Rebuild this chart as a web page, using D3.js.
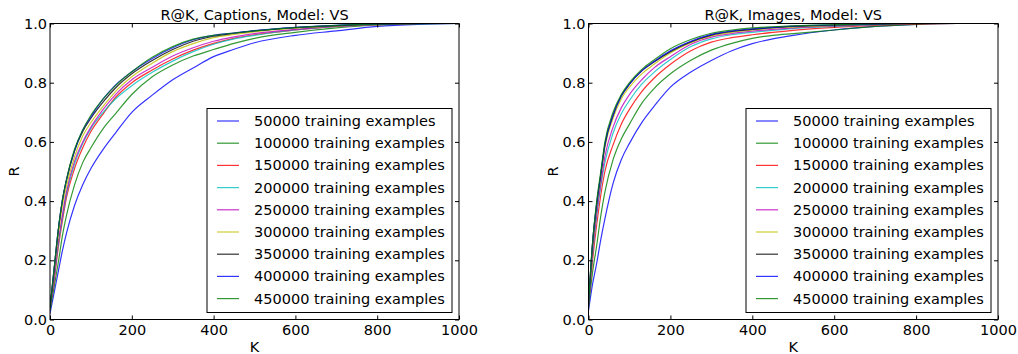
<!DOCTYPE html>
<html><head><meta charset="utf-8">
<script src="https://cdn.jsdelivr.net/npm/d3@7"></script>
<style>
html,body{margin:0;padding:0;background:#fff;}
svg{display:block;font-family:"DejaVu Sans",sans-serif;}
</style></head>
<body><svg id="chart" width="1018" height="354"></svg>
<script>
const kValues = [0,10,20,30,40,60,80,100,130,160,200,250,300,350,400,450,500,600,700,800,900,1000];
const seriesNames = ["50000 training examples","100000 training examples","150000 training examples","200000 training examples","250000 training examples","300000 training examples","350000 training examples","400000 training examples","450000 training examples"];
const seriesColors = ["#0000ff","#008000","#ff0000","#00bfbf","#bf00bf","#bfbf00","#000000","#0000ff","#008000"];
const xTicks = [0,200,400,600,800,1000];
const yTicks = [0.0,0.2,0.4,0.6,0.8,1.0];

// Captions panel
const cap50k  = [0.02,0.09,0.16,0.23,0.29,0.385,0.455,0.51,0.575,0.63,0.70,0.758,0.81,0.85,0.888,0.913,0.935,0.96,0.975,0.99,0.997,1.0];
const cap100k = [0.03,0.11,0.19,0.28,0.35,0.455,0.53,0.58,0.645,0.695,0.76,0.82,0.86,0.89,0.912,0.933,0.95,0.97,0.985,0.995,0.999,1];
const cap150k = [0.04,0.13,0.24,0.33,0.41,0.51,0.58,0.635,0.695,0.75,0.80,0.843,0.88,0.91,0.933,0.95,0.962,0.978,0.99,0.996,1,1];
const cap200k = [0.04,0.14,0.25,0.34,0.42,0.525,0.595,0.645,0.70,0.745,0.79,0.835,0.873,0.905,0.93,0.948,0.96,0.978,0.99,0.997,1,1];
const cap250k = [0.04,0.14,0.26,0.35,0.43,0.535,0.60,0.65,0.71,0.76,0.81,0.852,0.89,0.918,0.94,0.955,0.966,0.98,0.99,0.997,1,1];
const cap300k = [0.04,0.16,0.28,0.38,0.45,0.55,0.62,0.665,0.72,0.77,0.82,0.866,0.905,0.932,0.952,0.963,0.972,0.984,0.992,0.998,1,1];
const cap350k = [0.04,0.17,0.30,0.40,0.47,0.57,0.635,0.68,0.735,0.782,0.83,0.875,0.912,0.94,0.957,0.967,0.975,0.986,0.993,0.998,1,1];
const cap400k = [0.04,0.17,0.30,0.40,0.47,0.57,0.64,0.685,0.745,0.792,0.837,0.882,0.918,0.945,0.96,0.968,0.976,0.987,0.994,0.998,1,1];
const cap450k = [0.04,0.17,0.30,0.40,0.47,0.575,0.64,0.69,0.745,0.79,0.837,0.886,0.922,0.947,0.96,0.968,0.975,0.986,0.994,0.998,1,1];

// Images panel
const img50k  = [0.03,0.12,0.19,0.27,0.34,0.46,0.54,0.595,0.665,0.72,0.785,0.836,0.875,0.908,0.932,0.948,0.96,0.978,0.99,0.997,1,1];
const img100k = [0.04,0.16,0.25,0.35,0.43,0.54,0.61,0.66,0.73,0.78,0.83,0.876,0.91,0.933,0.95,0.96,0.966,0.978,0.99,0.997,1,1];
const img150k = [0.05,0.20,0.32,0.42,0.50,0.59,0.66,0.71,0.77,0.815,0.862,0.908,0.937,0.952,0.962,0.97,0.977,0.987,0.994,0.999,1,1];
const img200k = [0.05,0.22,0.35,0.45,0.53,0.63,0.695,0.74,0.795,0.835,0.878,0.922,0.948,0.962,0.97,0.977,0.983,0.99,0.996,1,1,1];
const img250k = [0.05,0.23,0.36,0.46,0.55,0.65,0.715,0.76,0.81,0.85,0.888,0.93,0.954,0.966,0.974,0.98,0.985,0.992,0.997,1,1,1];
const img300k = [0.05,0.25,0.38,0.48,0.58,0.68,0.745,0.785,0.83,0.862,0.90,0.935,0.958,0.97,0.978,0.984,0.988,0.994,0.998,1,1,1];
const img350k = [0.05,0.26,0.39,0.49,0.59,0.69,0.755,0.795,0.84,0.87,0.905,0.938,0.961,0.973,0.98,0.986,0.99,0.995,0.998,1,1,1];
const img400k = [0.05,0.26,0.39,0.49,0.59,0.69,0.755,0.795,0.84,0.872,0.908,0.94,0.963,0.975,0.982,0.987,0.991,0.995,0.998,1,1,1];
const img450k = [0.05,0.26,0.40,0.50,0.60,0.70,0.76,0.80,0.845,0.877,0.915,0.946,0.967,0.978,0.985,0.989,0.992,0.996,0.999,1,1,1];

const panels = [
  {title:"R@K, Captions, Model: VS", left:50, right:459, series:[cap50k,cap100k,cap150k,cap200k,cap250k,cap300k,cap350k,cap400k,cap450k]},
  {title:"R@K, Images, Model: VS", left:588.5, right:998, series:[img50k,img100k,img150k,img200k,img250k,img300k,img350k,img400k,img450k]}
];

const svg = d3.select("#chart");
const plotTop = 23.5, plotBottom = 319.5;
const fs = "14.5px";

panels.forEach(p => {
  const x = d3.scaleLinear().domain([0,1000]).range([p.left, p.right]);
  const y = d3.scaleLinear().domain([0,1]).range([plotBottom, plotTop]);
  const g = svg.append("g");

  const clipId = "clip" + Math.round(p.left);
  svg.append("clipPath").attr("id", clipId).append("rect")
    .attr("x", p.left).attr("y", plotTop).attr("width", p.right - p.left).attr("height", plotBottom - plotTop);

  const line = d3.line().curve(d3.curveMonotoneX).x((d,i) => x(kValues[i])).y(d => y(d));
  const lg = g.append("g").attr("clip-path", `url(#${clipId})`);
  p.series.forEach((s, i) => {
    lg.append("path").datum(s).attr("d", line)
      .attr("fill","none").attr("stroke", seriesColors[i])
      .attr("stroke-width", 1.2).attr("stroke-opacity", 0.8);
  });

  const fmtY = d3.format(".1f");
  const axB = g.append("g").attr("transform", `translate(0,${plotBottom})`)
    .call(d3.axisBottom(x).tickValues(xTicks).tickSizeInner(-4).tickSizeOuter(0).tickPadding(5).tickFormat(d3.format("d")));
  const axT = g.append("g").attr("transform", `translate(0,${plotTop})`)
    .call(d3.axisTop(x).tickValues(xTicks).tickSizeInner(-4).tickSizeOuter(0).tickFormat(""));
  const axL = g.append("g").attr("transform", `translate(${p.left},0)`)
    .call(d3.axisLeft(y).tickValues(yTicks).tickSizeInner(-4).tickSizeOuter(0).tickPadding(3).tickFormat(fmtY));
  const axR = g.append("g").attr("transform", `translate(${p.right},0)`)
    .call(d3.axisRight(y).tickValues(yTicks).tickSizeInner(-4).tickSizeOuter(0).tickFormat(""));
  [axB,axT,axL,axR].forEach(a => {
    a.select(".domain").remove();
    a.selectAll("line").attr("stroke","#000");
    a.selectAll("text").attr("font-size", fs).attr("font-family","DejaVu Sans").attr("fill","#000");
  });

  g.append("rect").attr("x", p.left).attr("y", plotTop).attr("width", p.right - p.left).attr("height", plotBottom - plotTop)
    .attr("fill","none").attr("stroke","#000").attr("stroke-width",1);

  g.append("text").attr("x", (p.left+p.right)/2).attr("y", 20).attr("text-anchor","middle")
    .attr("font-size", fs).text(p.title);
  g.append("text").attr("x", (p.left+p.right)/2).attr("y", 352).attr("text-anchor","middle")
    .attr("font-size", fs).text("K");
  g.append("text").attr("transform", `translate(${p.left-31},${(plotTop+plotBottom)/2}) rotate(-90)`)
    .attr("text-anchor","middle").attr("font-size", fs).text("R");

  const lx = p.right - 252, ly = 108.5, lw = 245, lh = 204;
  const leg = g.append("g");
  leg.append("rect").attr("x", lx).attr("y", ly).attr("width", lw).attr("height", lh)
    .attr("fill","#fff").attr("stroke","#000").attr("stroke-width",1);
  seriesNames.forEach((name, i) => {
    const cy = ly + 12.5 + i * 22.2;
    leg.append("line").attr("x1", lx+10).attr("x2", lx+32).attr("y1", cy).attr("y2", cy)
      .attr("stroke", seriesColors[i]).attr("stroke-width",1.2).attr("stroke-opacity",0.8);
    leg.append("text").attr("x", lx+47).attr("y", cy).attr("dy","0.35em")
      .attr("font-size", fs).text(name);
  });
});
</script></body></html>
